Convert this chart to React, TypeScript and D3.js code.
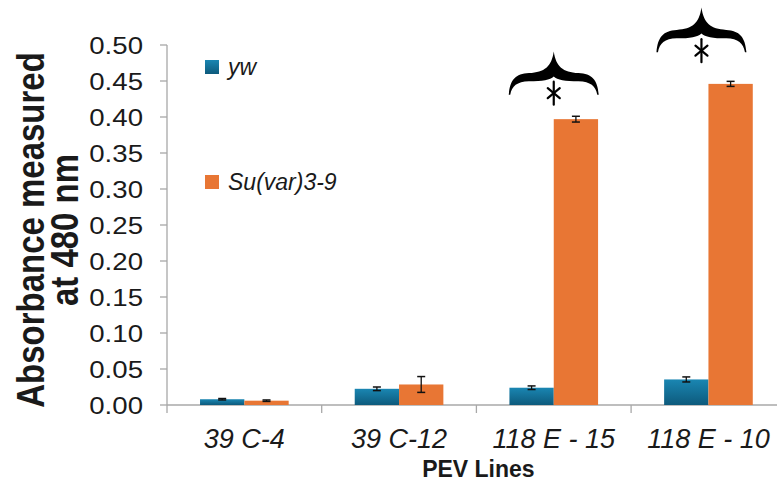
import React from "react";
import * as d3 from "d3";

const categories = ["39 C-4", "39 C-12", "118 E - 15", "118 E - 10"];
const seriesNames = ["yw", "Su(var)3-9"];
const ywValues = [0.008, 0.0225, 0.024, 0.0355];
const ywErrors = [0.001, 0.0025, 0.0025, 0.0035];
const suValues = [0.006, 0.0285, 0.397, 0.446];
const suErrors = [0.001, 0.011, 0.004, 0.0035];
const yTicks = [0, 0.05, 0.1, 0.15, 0.2, 0.25, 0.3, 0.35, 0.4, 0.45, 0.5];
const braceCategories = ["118 E - 15", "118 E - 10"];
const braceBase = [0.431, 0.49];
const braceTop = [0.491, 0.552];
const braceShift = [0, -7];

const W = 777;
const H = 485;
const x0 = 167;
const step = 154.7;
const COLORS = ["#14769e", "#e87634"];

function bracePath(cx: number, top: number, bottom: number, w: number) {
  const hw = w / 2;
  const h = bottom - top;
  const P = (dx: number, dy: number) => `${(cx + dx).toFixed(2)},${(top + dy).toFixed(2)}`;
  return [
    `M${P(-hw, h)}`,
    `C${P(-hw * 0.97, h * 0.65)} ${P(-hw * 0.85, h * 0.52)} ${P(-hw * 0.55, h * 0.5)}`,
    `C${P(-hw * 0.2, h * 0.48)} ${P(-hw * 0.05, h * 0.35)} ${P(0, 0)}`,
    `C${P(hw * 0.05, h * 0.35)} ${P(hw * 0.2, h * 0.48)} ${P(hw * 0.55, h * 0.5)}`,
    `C${P(hw * 0.85, h * 0.52)} ${P(hw * 0.97, h * 0.65)} ${P(hw, h)}`,
    `L${P(hw - 1.5, h)}`,
    `C${P(hw * 0.93, h * 0.8)} ${P(hw * 0.82, h * 0.7)} ${P(hw * 0.55, h * 0.69)}`,
    `C${P(hw * 0.25, h * 0.69)} ${P(hw * 0.08, h * 0.66)} ${P(0, h * 0.58)}`,
    `C${P(-hw * 0.08, h * 0.66)} ${P(-hw * 0.25, h * 0.69)} ${P(-hw * 0.55, h * 0.69)}`,
    `C${P(-hw * 0.82, h * 0.7)} ${P(-hw * 0.93, h * 0.8)} ${P(-hw + 1.5, h)}`,
    "Z",
  ].join(" ");
}

export default function App() {
  const y = d3.scaleLinear().domain([0, 0.5]).range([405, 45]);
  const x = d3
    .scaleBand<string>()
    .domain(categories)
    .range([x0, x0 + step * 4])
    .paddingInner(0.427)
    .paddingOuter(0.2135);
  const xs = d3.scaleBand<string>().domain(seriesNames).range([0, x.bandwidth()]);
  const values = [ywValues, suValues];
  const errors = [ywErrors, suErrors];
  const font = "'Liberation Sans', Arial, sans-serif";
  const axisColor = "#a8a8a8";

  return (
    <svg width={W} height={H} style={{ position: "absolute", left: 0, top: 0, background: "#fff" }} fontFamily={font}>
      <defs>
        <linearGradient id="gBlue" x1="0" y1="0" x2="0" y2="1">
          <stop offset="0" stopColor="#1a86b2" />
          <stop offset="1" stopColor="#0d5a7c" />
        </linearGradient>
      </defs>
      {/* y axis */}
      <line x1={x0} x2={x0} y1={y(0.5)} y2={y(0)} stroke={axisColor} strokeWidth={1.3} />
      {yTicks.map((t) => (
        <g key={t}>
          <line x1={x0 - 7} x2={x0} y1={y(t)} y2={y(t)} stroke={axisColor} strokeWidth={1.3} />
          <text
            transform={`translate(143,${y(t)}) scale(1.15,1)`}
            textAnchor="end"
            dy="0.36em"
            fontSize={24}
            fill="#1a1a1a"
          >
            {t.toFixed(2)}
          </text>
        </g>
      ))}
      {/* x axis */}
      <line x1={x0} x2={W} y1={y(0)} y2={y(0)} stroke={axisColor} strokeWidth={1.5} />
      {d3.range(categories.length + 1).map((i) => (
        <line key={i} x1={x0 + i * step} x2={x0 + i * step} y1={y(0)} y2={y(0) + 8} stroke={axisColor} strokeWidth={1.3} />
      ))}
      {/* bars */}
      {categories.map((c, ci) =>
        seriesNames.map((s, si) => {
          const v = values[si][ci];
          const e = errors[si][ci];
          const bx = (x(c) as number) + (xs(s) as number);
          const bw = xs.bandwidth();
          const cx = bx + bw / 2;
          return (
            <g key={c + s}>
              <rect x={bx} y={y(v)} width={bw} height={y(0) - y(v)} fill={si === 0 ? "url(#gBlue)" : COLORS[1]} />
              <line x1={cx} x2={cx} y1={y(v + e)} y2={y(v - e)} stroke="#111" strokeWidth={1.3} />
              <line x1={cx - 4} x2={cx + 4} y1={y(v + e)} y2={y(v + e)} stroke="#111" strokeWidth={1.5} />
              <line x1={cx - 4} x2={cx + 4} y1={y(v - e)} y2={y(v - e)} stroke="#111" strokeWidth={1.5} />
            </g>
          );
        })
      )}
      {/* x labels */}
      {categories.map((c) => (
        <text
          key={c}
          x={(x(c) as number) + x.bandwidth() / 2}
          y={448}
          textAnchor="middle"
          fontSize={27}
          fontStyle="italic"
          fill="#1a1a1a"
        >
          {c}
        </text>
      ))}
      <text x={x0 + step * 2 + 2} y={477} textAnchor="middle" fontSize={23} fontWeight="bold" fill="#1a1a1a">
        PEV Lines
      </text>
      {/* y title */}
      <g transform="translate(44,230) scale(1.15,1) rotate(-90)">
        <text textAnchor="middle" fontSize={33} fontWeight="bold" fill="#1a1a1a">
          Absorbance measured
        </text>
      </g>
      <g transform="translate(78,230) scale(1.15,1) rotate(-90)">
        <text textAnchor="middle" fontSize={33} fontWeight="bold" fill="#1a1a1a">
          at 480 nm
        </text>
      </g>
      {/* legend */}
      <rect x={205} y={60} width={14} height={14} fill="url(#gBlue)" />
      <text x={228} y={75} fontSize={23} fontStyle="italic" fill="#1a1a1a">
        {seriesNames[0]}
      </text>
      <rect x={205} y={175} width={14} height={14} fill={COLORS[1]} />
      <text x={228} y={190} fontSize={23} fontStyle="italic" fill="#1a1a1a">
        {seriesNames[1]}
      </text>
      {/* significance braces */}
      {braceCategories.map((c, i) => {
        const cx = (x(c) as number) + x.bandwidth() / 2 + braceShift[i];
        const top = y(braceTop[i]);
        const bottom = y(braceBase[i]);
        const ay = bottom - 1.5;
        const L = 11.5;
        return (
          <g key={c}>
            <path d={bracePath(cx, top, bottom, 90)} fill="#000" />
            <g stroke="#000" strokeWidth={2.2} strokeLinecap="round">
              <line x1={cx} x2={cx} y1={ay - L} y2={ay + L} />
              <line x1={cx - 6} x2={cx + 6} y1={ay - 5} y2={ay + 5} />
              <line x1={cx - 6} x2={cx + 6} y1={ay + 5} y2={ay - 5} />
            </g>
          </g>
        );
      })}
    </svg>
  );
}
